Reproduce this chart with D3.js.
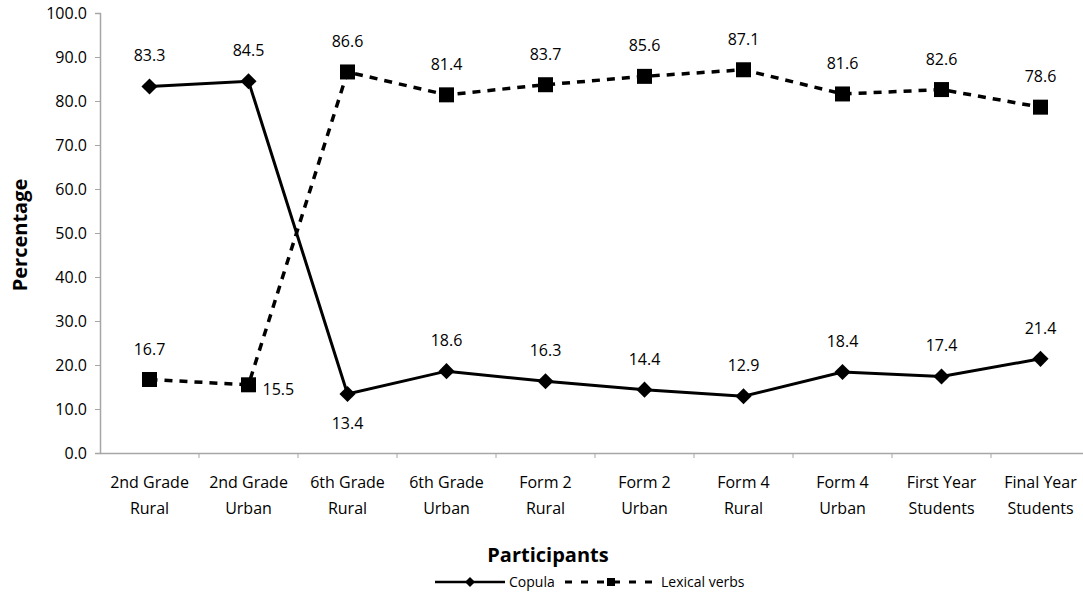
<!DOCTYPE html>
<html>
<head>
<meta charset="utf-8">
<script src="https://cdn.jsdelivr.net/npm/d3@7"></script>
<style>
body { margin: 0; background: #fff; }
text { font-family: "Open Sans", "Lato", sans-serif; fill: #000; }
.tick text { font-size: 16px; }
.lbl { font-size: 16px; }
</style>
</head>
<body>
<div id="chart"></div>
<script>
var categories = [
  ["2nd Grade", "Rural"], ["2nd Grade", "Urban"], ["6th Grade", "Rural"], ["6th Grade", "Urban"],
  ["Form 2", "Rural"], ["Form 2", "Urban"], ["Form 4", "Rural"], ["Form 4", "Urban"],
  ["First Year", "Students"], ["Final Year", "Students"]
];
var copula = [83.3, 84.5, 13.4, 18.6, 16.3, 14.4, 12.9, 18.4, 17.4, 21.4];
var lexical = [16.7, 15.5, 86.6, 81.4, 83.7, 85.6, 87.1, 81.6, 82.6, 78.6];
var yTicks = [0, 10, 20, 30, 40, 50, 60, 70, 80, 90, 100];

var width = 1083, height = 596;
var margin = {top: 13, right: -7, bottom: 143, left: 100};

var svg = d3.select("#chart").append("svg")
    .attr("width", width)
    .attr("height", height);

var x = d3.scaleBand()
    .domain(d3.range(categories.length))
    .range([margin.left, width - margin.right]);

var y = d3.scaleLinear()
    .domain([0, 100])
    .range([height - margin.bottom, margin.top]);

// y axis
var yAxis = svg.append("g")
    .attr("transform", "translate(" + margin.left + ",0)")
    .call(d3.axisLeft(y).tickValues(yTicks).tickSize(5).tickPadding(8).tickFormat(d3.format(".1f")));
yAxis.select(".domain").attr("stroke", "#a6a6a6").attr("stroke-width", 1.5);
yAxis.selectAll(".tick line").attr("stroke", "#a6a6a6");

// x axis
var xAxis = svg.append("g")
    .attr("transform", "translate(0," + y(0) + ")")
    .call(d3.axisBottom(x).tickSize(0).tickFormat(""));
xAxis.select(".domain").attr("stroke", "#a6a6a6").attr("stroke-width", 1.5);

// tick marks between categories
svg.append("g").selectAll("line")
    .data(d3.range(1, categories.length))
    .enter().append("line")
    .attr("x1", function(d) { return x(d); })
    .attr("x2", function(d) { return x(d); })
    .attr("y1", y(0))
    .attr("y2", y(0) + 5)
    .attr("stroke", "#a6a6a6");

var catText = svg.append("g").selectAll("text")
    .data(categories)
    .enter().append("text")
    .attr("class", "lbl")
    .attr("text-anchor", "middle")
    .attr("x", function(d, i) { return x(i) + x.bandwidth() / 2; });
catText.append("tspan")
    .attr("x", function(d, i) { return x(i) + x.bandwidth() / 2; })
    .attr("y", 488)
    .text(function(d) { return d[0]; });
catText.append("tspan")
    .attr("x", function(d, i) { return x(i) + x.bandwidth() / 2; })
    .attr("y", 514)
    .text(function(d) { return d[1]; });

var cx = function(d, i) { return x(i) + x.bandwidth() / 2; };

var line = d3.line()
    .x(cx)
    .y(function(d) { return y(d); });

svg.append("path")
    .datum(lexical)
    .attr("d", line)
    .attr("fill", "none")
    .attr("stroke", "#000")
    .attr("stroke-width", 3.5)
    .attr("stroke-dasharray", "8,7");

svg.append("path")
    .datum(copula)
    .attr("d", line)
    .attr("fill", "none")
    .attr("stroke", "#000")
    .attr("stroke-width", 3);

var square = d3.symbol().type(d3.symbolSquare).size(225);

svg.append("g").selectAll("path")
    .data(copula)
    .enter().append("path")
    .attr("d", d3.symbol().type(d3.symbolSquare).size(130))
    .attr("transform", function(d, i) { return "translate(" + cx(d, i) + "," + y(d) + ") rotate(45)"; })
    .attr("fill", "#000");

svg.append("g").selectAll("path")
    .data(lexical)
    .enter().append("path")
    .attr("d", square)
    .attr("transform", function(d, i) { return "translate(" + cx(d, i) + "," + y(d) + ")"; })
    .attr("fill", "#000");

// data labels
svg.append("g").selectAll("text")
    .data(copula)
    .enter().append("text")
    .attr("class", "lbl")
    .attr("text-anchor", "middle")
    .attr("x", cx)
    .attr("y", function(d, i) { return i == 2 ? y(d) + 35 : y(d) - 25; })
    .text(function(d) { return d.toFixed(1); });

svg.append("g").selectAll("text")
    .data(lexical)
    .enter().append("text")
    .attr("class", "lbl")
    .attr("text-anchor", function(d, i) { return i == 1 ? "start" : "middle"; })
    .attr("x", function(d, i) { return i == 1 ? cx(d, i) + 14 : cx(d, i); })
    .attr("y", function(d, i) { return i == 1 ? y(d) + 10 : y(d) - 25; })
    .text(function(d) { return d.toFixed(1); });

// axis titles
svg.append("text")
    .attr("transform", "translate(27," + (y(50) + 2) + ") rotate(-90)")
    .attr("text-anchor", "middle")
    .style("font-size", "20px")
    .style("font-weight", "bold")
    .text("Percentage");

svg.append("text")
    .attr("x", 548)
    .attr("y", 562)
    .attr("text-anchor", "middle")
    .style("font-size", "20px")
    .style("font-weight", "bold")
    .text("Participants");

// legend
var legend = svg.append("g");
legend.append("line")
    .attr("x1", 435).attr("x2", 505).attr("y1", 582).attr("y2", 582)
    .attr("stroke", "#000").attr("stroke-width", 2.5);
legend.append("path")
    .attr("d", d3.symbol().type(d3.symbolSquare).size(50))
    .attr("transform", "translate(470,582) rotate(45)");
legend.append("text")
    .attr("x", 509).attr("y", 587)
    .style("font-size", "14px")
    .text("Copula");
legend.append("line")
    .attr("x1", 565).attr("x2", 657).attr("y1", 582).attr("y2", 582)
    .attr("stroke", "#000").attr("stroke-width", 3)
    .attr("stroke-dasharray", "7,9");
legend.append("path")
    .attr("d", d3.symbol().type(d3.symbolSquare).size(64))
    .attr("transform", "translate(611,582)");
legend.append("text")
    .attr("x", 661).attr("y", 587)
    .style("font-size", "14px")
    .text("Lexical verbs");
</script>
</body>
</html>
